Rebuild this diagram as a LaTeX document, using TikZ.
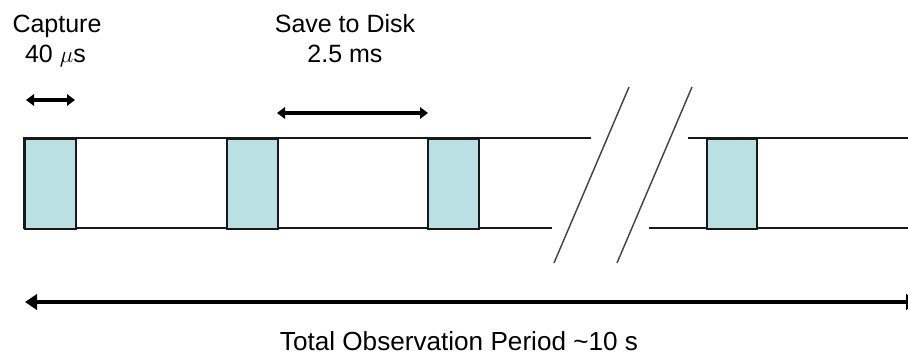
\documentclass[tikz,border=0pt]{standalone}
\usepackage{fontspec}
\setmainfont{Liberation Sans}
\usetikzlibrary{arrows.meta}
\definecolor{capfill}{RGB}{187,224,227}
\definecolor{edge}{RGB}{25,25,25}
\definecolor{slashgray}{RGB}{70,70,70}
\tikzset{
  frame/.style={draw=edge, line width=1.4pt},
  capbox/.style={draw=edge, line width=1.4pt, fill=capfill, rectangle,
                 anchor=north west, inner sep=0pt,
                 minimum width=38.25pt, minimum height=67.5pt},
  slash/.style={draw=slashgray, line width=1.1pt},
  dimarrow/.style={line width=2.3pt,
                   {Triangle[length=6pt,width=8.5pt]}-{Triangle[length=6pt,width=8.5pt]}},
  totalarrow/.style={line width=3pt,
                   {Triangle[length=9pt,width=11.5pt]}-{Triangle[length=9pt,width=11.5pt]}},
  label/.style={font=\fontsize{18.75}{22}\selectfont, inner sep=0pt, anchor=base},
  biglabel/.style={font=\fontsize{19.6}{23}\selectfont, inner sep=0pt, anchor=base},
}
\begin{document}
\begin{tikzpicture}[x=0.75pt, y=-0.75pt]
  \useasboundingbox (0,0) rectangle (908,354);
  \clip (0,0) rectangle (908,354);

  % timeline frame, first part
  \draw[frame] (591,138) -- (24,138) -- (24,228) -- (552,228);
  % timeline frame, part after the break
  \draw[frame] (688,138) -- (915,138);
  \draw[frame] (649,228) -- (915,228);

  % capture windows
  \node[capbox] (c1) at (24,138) {};
  \node[capbox] (c2) at (226,138) {};
  \node[capbox] (c3) at (427,138) {};
  \node[capbox, minimum width=37.5pt] (c4) at (706,138) {};

  % break marks
  \draw[slash] (629,87) -- (554,263);
  \draw[slash] (692,87) -- (617,263);

  % labels
  \node[label] (cap) at (57,32) {Capture};
  \node[label] (capt) at (55.5,62) {40 $\mu$s};
  \node[label] (save) at (345,32) {Save to Disk};
  \node[label] (savet) at (345,62) {2.5 ms};
  \node[biglabel] (total) at (459,350) {Total Observation Period \textasciitilde 10 s};

  % duration arrows
  \coordinate (capL) at (26,100);
  \coordinate (capR) at (75,100);
  \draw[dimarrow] (capL) -- (capR);
  \coordinate (saveL) at (277,113);
  \coordinate (saveR) at (428,113);
  \draw[dimarrow] (saveL) -- (saveR);
  \coordinate (totL) at (25,302);
  \coordinate (totR) at (918,302);
  \draw[totalarrow] (totL) -- (totR);
\end{tikzpicture}
\end{document}
